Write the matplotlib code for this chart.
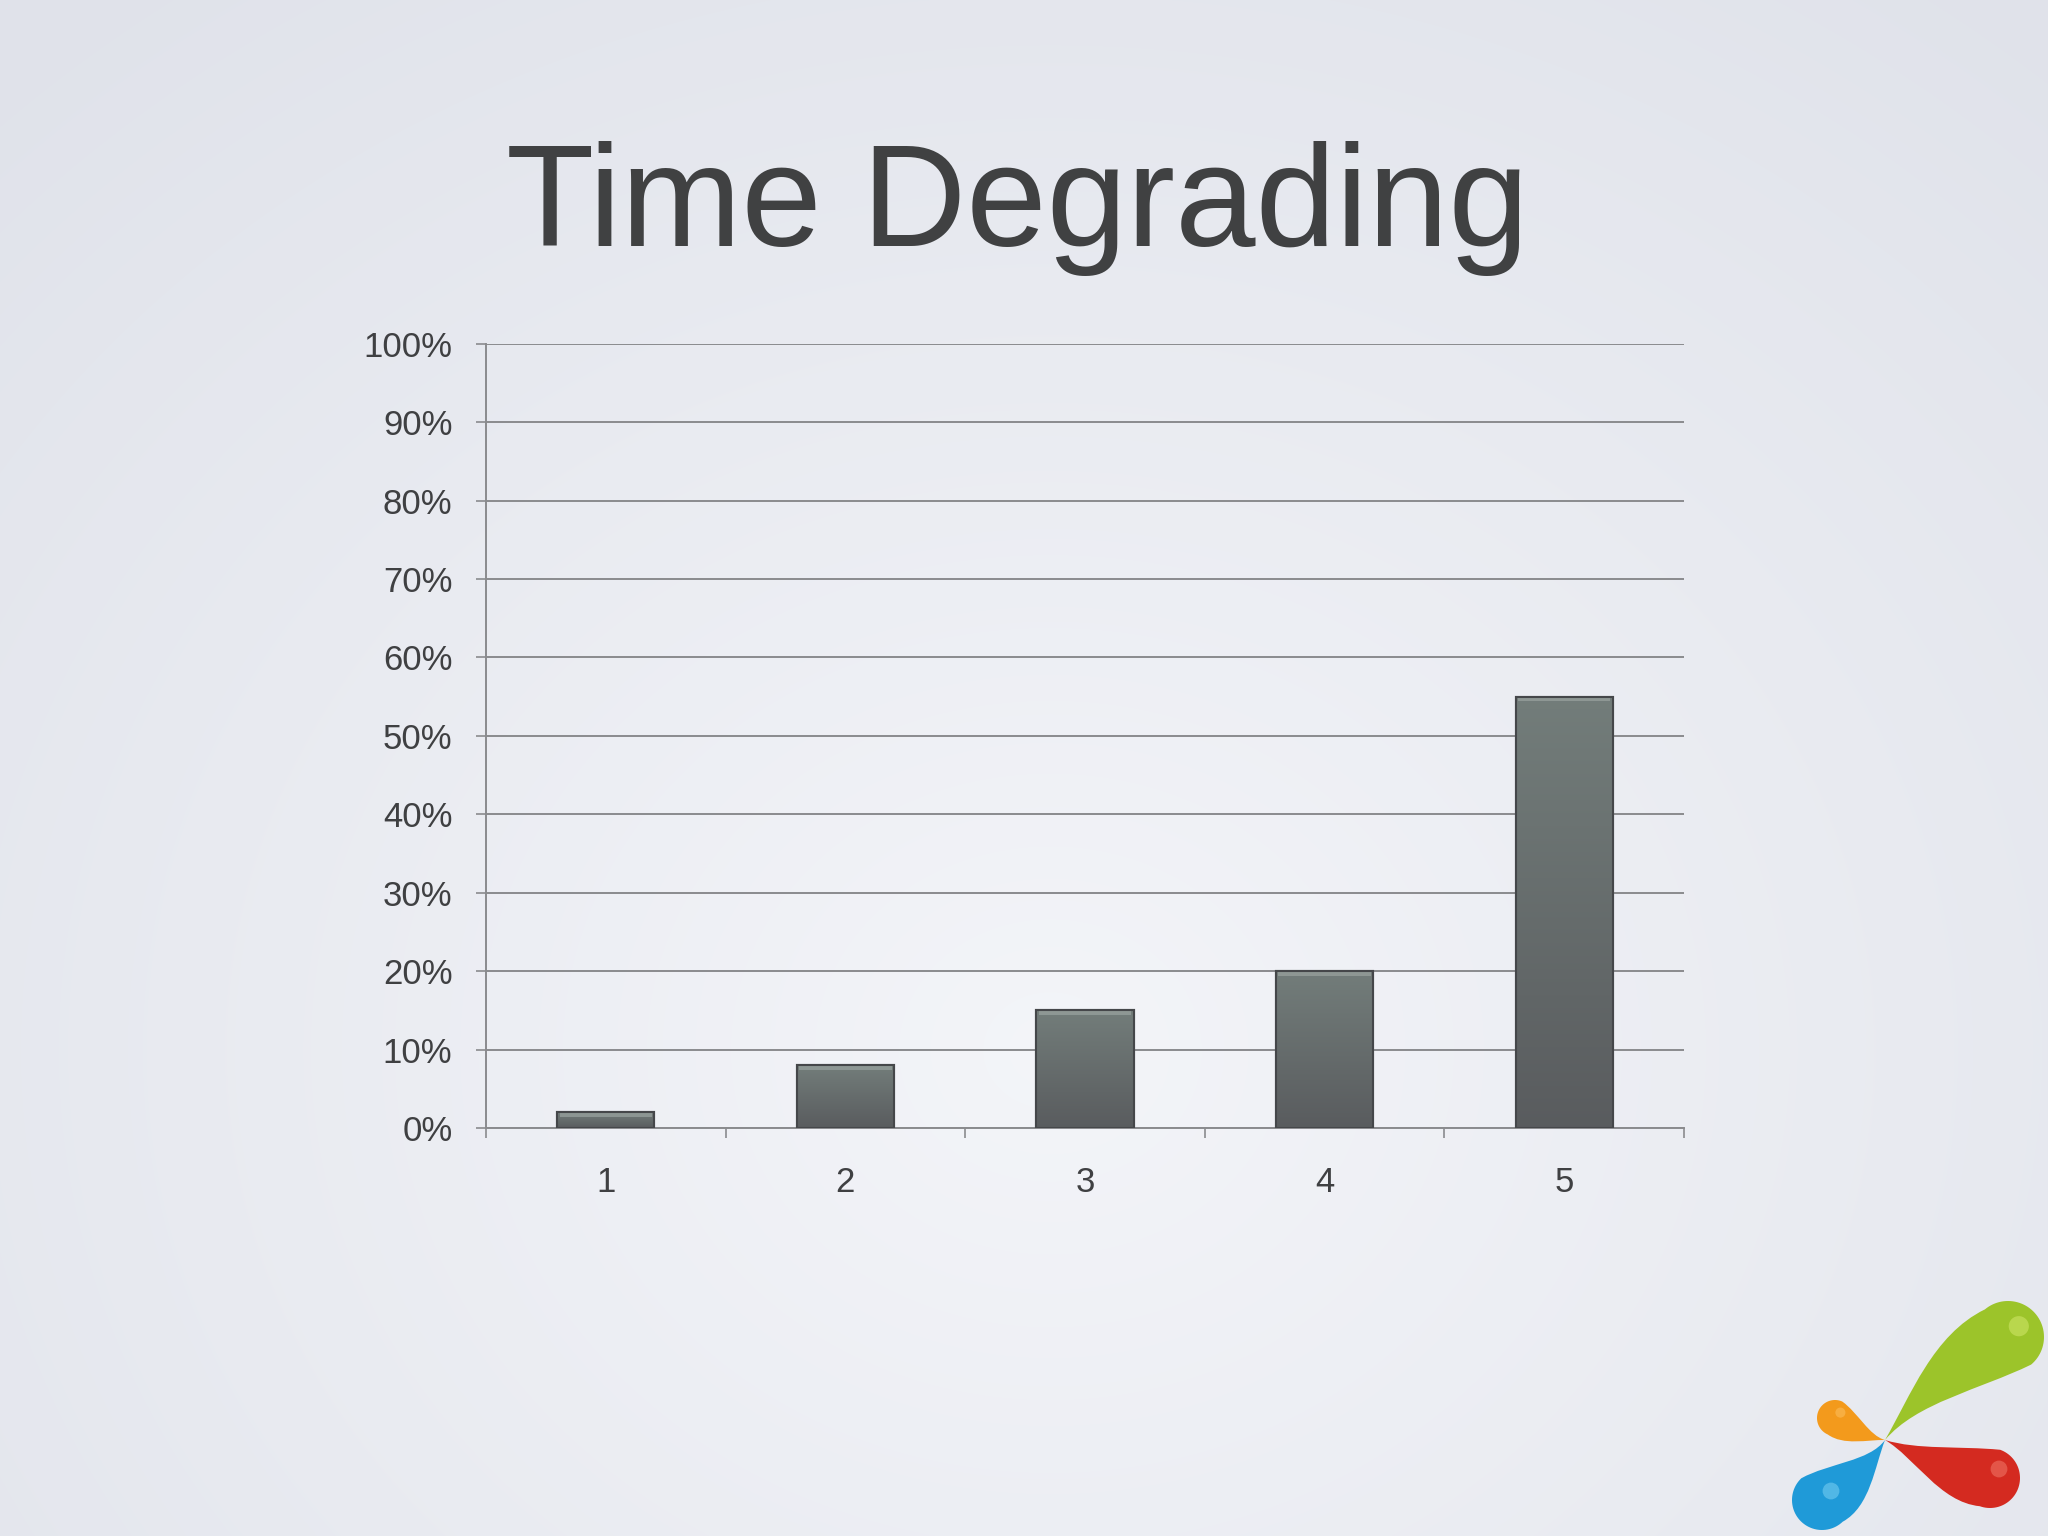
import numpy as np
import matplotlib
matplotlib.use("Agg")
import matplotlib.pyplot as plt
from matplotlib.path import Path
from matplotlib.patches import PathPatch
from matplotlib.ticker import FixedLocator, FuncFormatter

categories = ["1", "2", "3", "4", "5"]
values = [0.02, 0.08, 0.15, 0.20, 0.55]
y_ticks = [0.0, 0.1, 0.2, 0.3, 0.4, 0.5, 0.6, 0.7, 0.8, 0.9, 1.0]
title = "Time Degrading"

W, H = 2048, 1536
plt.rcParams['font.family'] = ['Liberation Sans', 'DejaVu Sans']
fig = plt.figure(figsize=(W / 100, H / 100), dpi=100)

# slide background: soft radial gradient
bg = fig.add_axes([0, 0, 1, 1])
yy, xx = np.mgrid[0:H, 0:W]
d = np.sqrt(((xx - 1050) / 1500.0) ** 2 + ((yy - 1050) / 1300.0) ** 2)
d = np.clip(d, 0, 1)
c0 = np.array([0.955, 0.96, 0.975])
c1 = np.array([0.88, 0.89, 0.92])
img = c0[None, None, :] * (1 - d[..., None]) + c1[None, None, :] * d[..., None]
bg.imshow(img, extent=[0, W, H, 0], aspect='auto')
bg.set_xlim(0, W)
bg.set_ylim(H, 0)
bg.axis('off')

# title
fig.text(0.5 - 0.003, 1 - 246 / H, title, ha='center', va='baseline',
         fontsize=104, color='#404142')

# chart
ax = fig.add_axes([486 / W, 408 / H, 1198 / W, 784.3 / H])
ax.patch.set_alpha(0)
x = np.arange(len(categories))
bars = ax.bar(x, values, width=0.405, color='#676b6b', edgecolor='#484a4b',
              linewidth=1.5, zorder=3)

# vertical shading inside each bar
grad = np.linspace(0, 1, 256)[:, None]
top_c = np.array([0.45, 0.49, 0.48])
bot_c = np.array([0.35, 0.36, 0.37])
shade = top_c[None, None, :] * (1 - grad[..., None]) + bot_c[None, None, :] * grad[..., None]
for b in bars:
    bx, bw, bh = b.get_x(), b.get_width(), b.get_height()
    im = ax.imshow(shade, extent=[bx, bx + bw, 0, bh], aspect='auto', zorder=3.5)
    im.set_clip_path(b)
    ax.fill_between([bx + 0.01, bx + bw - 0.01], bh - min(0.006, bh * 0.3), bh,
                    color='#9aa3a0', alpha=0.7, zorder=3.6, linewidth=0)
    ax.add_patch(plt.Rectangle((bx, 0), bw, bh, fill=False, edgecolor='#45474a',
                               linewidth=1.5, zorder=3.7))

ax.set_xlim(-0.5, len(categories) - 0.5)
ax.set_ylim(0, 1.0)
ax.set_yticks(y_ticks)
ax.yaxis.set_major_formatter(FuncFormatter(lambda v, p: f"{int(round(v * 100))}%"))
ax.yaxis.grid(True, color='#8a8b8e', linewidth=1.4, zorder=0)
ax.set_axisbelow(True)

ax.set_xticks(x)
ax.set_xticklabels(categories)
ax.xaxis.set_minor_locator(FixedLocator(np.arange(-0.5, len(categories), 1.0)))
ax.tick_params(axis='x', which='major', length=0, pad=27, labelsize=25, labelcolor='#3f4042')
ax.tick_params(axis='x', which='minor', length=7.5, width=1.2, color='#8a8b8e', direction='out')
ax.tick_params(axis='y', length=7.2, width=1.2, color='#8a8b8e', pad=17,
               labelsize=25, labelcolor='#3f4042')

for s in ['top', 'right']:
    ax.spines[s].set_visible(False)
for s in ['left', 'bottom']:
    ax.spines[s].set_color('#8a8b8e')
    ax.spines[s].set_linewidth(1.4)


# logo in the corner, four fat drops meeting at a centre point
def drop(cx, cy, r, px, py, bend):
    c = np.array([cx, cy])
    p = np.array([px, py])
    v = p - c
    L = np.hypot(*v)
    u = v / L
    n = np.array([-u[1], u[0]])
    a0 = np.arctan2(u[1], u[0])
    angs = np.linspace(a0 + np.pi / 2, a0 + 3 * np.pi / 2, 50)
    arc = c + r * np.stack([np.cos(angs), np.sin(angs)], axis=1)
    verts = [tuple(q) for q in arc]
    codes = [Path.MOVETO] + [Path.LINETO] * (len(arc) - 1)
    # side from -n point to tip
    s1 = c - r * n
    verts += [tuple(s1 + u * L * 0.35 + n * bend), tuple(p - u * L * 0.3 + n * bend * 0.6), tuple(p)]
    codes += [Path.CURVE4] * 3
    s2 = c + r * n
    verts += [tuple(p - u * L * 0.3 + n * bend * 0.6 + n * r * 0.25),
              tuple(s2 + u * L * 0.35 + n * bend), tuple(s2)]
    codes += [Path.CURVE4] * 3
    verts.append(tuple(arc[0]))
    codes.append(Path.CLOSEPOLY)
    return Path(verts, codes)


lg = fig.add_axes([0, 0, 1, 1])
lg.set_xlim(0, W)
lg.set_ylim(H, 0)
lg.axis('off')
centre = (1885, 1440)
drops = [
    (2008, 1337, 36, 14, '#9cc42a', '#d2e86a'),
    (1835, 1418, 18, 4, '#f39a1c', '#fcc060'),
    (1990, 1478, 30, -10, '#d42a20', '#f07a6a'),
    (1822, 1500, 30, 8, '#1f9ad8', '#7ccff2'),
]
for cx, cy, r, bend, col, hi in drops:
    lg.add_patch(PathPatch(drop(cx, cy, r, centre[0], centre[1], bend),
                           facecolor=col, edgecolor='none'))
    lg.add_patch(plt.Circle((cx + r * 0.3, cy - r * 0.3), r * 0.28, color=hi, alpha=0.55,
                            linewidth=0))

fig.savefig("out.png", dpi=100)
